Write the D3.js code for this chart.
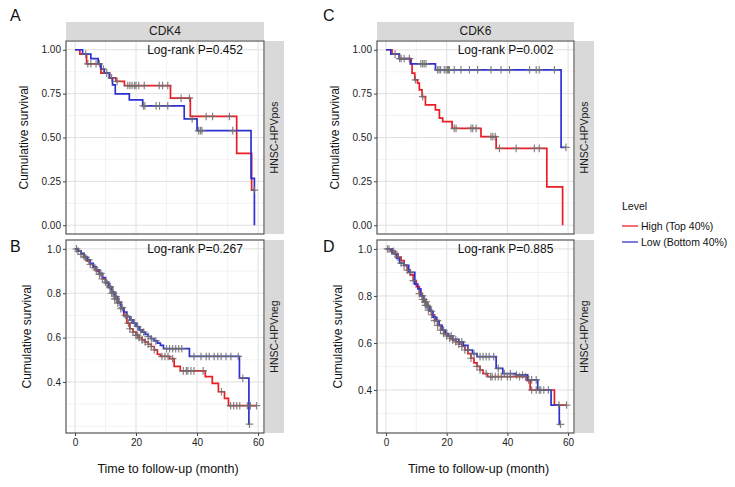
<!DOCTYPE html>
<html><head><meta charset="utf-8">
<script src="https://cdn.jsdelivr.net/npm/d3@7"></script>
<style>
html,body{margin:0;padding:0;background:#fff;}
text{font-family:"Liberation Sans",Arial,sans-serif;}
</style></head>
<body><svg id="chart" width="735" height="487"></svg>
<script>
// ---------------- data ----------------
const genes = ["CDK4", "CDK6"];
const strata = ["HNSC-HPVpos", "HNSC-HPVneg"];
const groups = ["High (Top 40%)", "Low (Bottom 40%)"];
const pValues = [["0.452", "0.267"], ["0.002", "0.885"]];
const xTicks = [0, 20, 40, 60];
const yTicksPos = [0, 0.25, 0.5, 0.75, 1.0];
const yTicksNeg = [0.4, 0.6, 0.8, 1.0];

// Panel A: CDK4, HPV positive  (time in months, survival after the event)
const cdk4PosHigh = [[0,1],[1.6,0.975],[3.8,0.92],[8.5,0.867],[11.3,0.84],[13.4,0.82],[16.2,0.796],[31.3,0.724],[37.8,0.62],[53,0.41],[57.9,0.2]];
const cdk4PosHighCens = [4.2,5.2,6.9,8.0,10.4,13.8,17.3,18.0,18.7,19.5,20.0,20.9,22.7,27.6,28.7,30.4,34.8,37.5,43,45.1,50.6,58.8];
const cdk4PosLow = [[0,1],[2.5,0.975],[5.2,0.95],[7.6,0.92],[8.5,0.89],[9.6,0.867],[11.3,0.84],[12.3,0.80],[13.2,0.749],[17.8,0.714],[22.2,0.68],[35.8,0.606],[40,0.539],[57.7,0.267],[58.8,0]];
const cdk4PosLowCens = [3.5,9.3,12.0,22.4,22.9,26.6,27.7,30.4,38.4,40.5,41.1,41.6,51.7];

// Panel B: CDK4, HPV negative
const cdk4NegHigh = [[0,1],[1,0.99],[2,0.975],[3,0.96],[4,0.945],[5,0.93],[6,0.915],[7,0.9],[8,0.885],[9,0.865],[10,0.845],[11,0.825],[12,0.8],[13,0.775],[14,0.755],[15,0.73],[16,0.7],[17,0.665],[18,0.64],[19,0.625],[20,0.61],[21,0.6],[22,0.59],[23,0.58],[24,0.57],[25,0.56],[26,0.545],[27,0.525],[28,0.515],[31,0.505],[32.5,0.47],[34.5,0.45],[42.7,0.424],[45,0.394],[47,0.356],[49,0.326],[50.3,0.293]];
const cdk4NegHighCens = [0.5,2,3.5,5,6.5,8,9,10.5,11.5,12,12.5,13,13.5,14,15,16.5,17.5,18,19,20,20.5,21,22,23,24,25,26,28.5,29.5,30.5,32,35.5,36.5,37,38,39,42,48,51,52,53,54,56.5,57.5,59.5];
const cdk4NegLow = [[0,1],[1,0.99],[2,0.98],[3,0.965],[4,0.95],[5,0.935],[6,0.92],[7,0.905],[8,0.89],[9,0.87],[10,0.85],[11,0.83],[12,0.805],[13,0.785],[14,0.76],[15,0.735],[16,0.715],[17,0.695],[18,0.68],[19,0.665],[20,0.65],[21,0.635],[22,0.625],[23,0.615],[24,0.605],[25,0.595],[26,0.585],[27,0.575],[28,0.565],[29,0.55],[37.5,0.515],[53.9,0.417],[57,0.21]];
const cdk4NegLowCens = [1,3,4.5,7,8.5,10,11.5,12.5,13.5,14.5,15.5,17,18.5,19.5,20.5,21.5,22.5,24,25,26.5,30,31,32,33,34,35,39,41.3,43,44,45.6,46.8,47.9,49.5,51.1,53.5,55,57.2];

// Panel C: CDK6, HPV positive
const cdk6PosHigh = [[0,1],[2.0,0.975],[4.4,0.95],[8.3,0.92],[8.6,0.867],[9.5,0.829],[10.4,0.81],[11.0,0.771],[11.9,0.733],[13.0,0.686],[16.3,0.657],[17.6,0.61],[18.7,0.59],[21.8,0.552],[31.3,0.505],[36.3,0.438],[53,0.219],[58.2,0]];
const cdk6PosHighCens = [5,9.7,12.1,22.5,23.1,28,28.6,29.7,34.6,35.2,36.0,37.4,42.9,48.9,50.5];
const cdk6PosLow = [[0,1],[1.6,0.975],[4.4,0.95],[8,0.92],[16.3,0.886],[57.7,0.444]];
const cdk6PosLowCens = [3,4.5,6.0,7.7,11.5,12.1,12.6,13.2,17,17.5,18,19.2,19.8,20.3,20.6,20.9,22.5,24.7,27.5,30.2,34.6,37.9,40.7,47.3,49.5,50.5,55.5,59.3];

// Panel D: CDK6, HPV negative
const cdk6NegHigh = [[0,1],[1.5,0.99],[3,0.98],[4,0.965],[5,0.95],[6,0.93],[7,0.91],[8,0.89],[9,0.865],[10,0.84],[11,0.81],[12,0.785],[13,0.76],[14,0.74],[15,0.72],[16,0.695],[17,0.675],[18,0.655],[19,0.64],[20,0.63],[21,0.62],[22,0.613],[23,0.605],[24,0.595],[25,0.585],[26,0.57],[27,0.555],[28,0.535],[29,0.515],[30,0.5],[31,0.485],[32,0.47],[33.5,0.457],[46.5,0.44],[47.5,0.4],[55.5,0.336]];
const cdk6NegHighCens = [1,2.5,4,6,7,9,11,12,12.5,13,13.5,14,15,16,17,18,19,20,21,22,23,24,25,26,28,30,31,33,34.5,35,36,37,38,40,41,44,46,48,49.5,50.5,52,53.5,57,59.5];
const cdk6NegLow = [[0,1],[2,0.98],[3.5,0.96],[4.5,0.94],[6,0.93],[7.5,0.9],[9.5,0.85],[10.5,0.83],[11.5,0.8],[12.5,0.775],[13.5,0.755],[14.5,0.735],[15.5,0.71],[16.5,0.695],[17.5,0.675],[18.5,0.655],[19.5,0.64],[20.5,0.63],[22,0.615],[24,0.605],[25.5,0.59],[27,0.57],[28.5,0.555],[30,0.542],[36.3,0.492],[38.5,0.47],[42.9,0.464],[46.7,0.443],[50,0.4],[54.4,0.336],[57.1,0.254]];
const cdk6NegLowCens = [0.5,3,5,8,12,12.8,13.3,14,15,17,19,20,21.5,23,25,27,29,31,32,33,34,35.5,37,39,41,43,45,47,48,49.5,51,57.5];

// ---------------- layout ----------------
const svg = d3.select("#chart");
const colors = {high: "#ec1c24", low: "#2e31d1"};
const cols = [{x0: 66, x1: 264}, {x0: 377, x1: 574}];
const rows = [{y0: 41, y1: 234}, {y0: 240, y1: 433}];

const panels = [
  {letter:"A", c:0, r:0, high:cdk4PosHigh, highC:cdk4PosHighCens, low:cdk4PosLow, lowC:cdk4PosLowCens, dom:[-0.05,1.05], ticks:yTicksPos, fmt:d3.format(".2f"), minor:[0.125,0.375,0.625,0.875], p:pValues[0][0]},
  {letter:"B", c:0, r:1, high:cdk4NegHigh, highC:cdk4NegHighCens, low:cdk4NegLow, lowC:cdk4NegLowCens, dom:[0.17,1.04], ticks:yTicksNeg, fmt:d3.format(".1f"), minor:[0.2,0.3,0.5,0.7,0.9], p:pValues[0][1]},
  {letter:"C", c:1, r:0, high:cdk6PosHigh, highC:cdk6PosHighCens, low:cdk6PosLow, lowC:cdk6PosLowCens, dom:[-0.05,1.05], ticks:yTicksPos, fmt:d3.format(".2f"), minor:[0.125,0.375,0.625,0.875], p:pValues[1][0]},
  {letter:"D", c:1, r:1, high:cdk6NegHigh, highC:cdk6NegHighCens, low:cdk6NegLow, lowC:cdk6NegLowCens, dom:[0.217,1.038], ticks:yTicksNeg, fmt:d3.format(".1f"), minor:[0.3,0.5,0.7,0.9], p:pValues[1][1]}
];

function stepValue(steps, t){
  let v = steps[0][1];
  for (const s of steps){ if (s[0] <= t) v = s[1]; }
  return v;
}

panels.forEach(P => {
  const col = cols[P.c], row = rows[P.r];
  const x = d3.scaleLinear().domain([-2.95, 61.95]).range([col.x0, col.x1]);
  const y = d3.scaleLinear().domain(P.dom).range([row.y1, row.y0]);
  const g = svg.append("g");
  const clipId = "clip" + P.letter;
  svg.append("clipPath").attr("id", clipId).append("rect")
    .attr("x", col.x0).attr("y", row.y0).attr("width", col.x1 - col.x0).attr("height", row.y1 - row.y0);

  // grid
  const grid = g.append("g");
  [10, 30, 50].forEach(v => grid.append("line").attr("x1", x(v)).attr("x2", x(v)).attr("y1", row.y0).attr("y2", row.y1).attr("stroke", "#f0f0f0").attr("stroke-width", 0.8));
  P.minor.forEach(v => grid.append("line").attr("x1", col.x0).attr("x2", col.x1).attr("y1", y(v)).attr("y2", y(v)).attr("stroke", "#f0f0f0").attr("stroke-width", 0.8));
  xTicks.forEach(v => grid.append("line").attr("x1", x(v)).attr("x2", x(v)).attr("y1", row.y0).attr("y2", row.y1).attr("stroke", "#e0e0e0").attr("stroke-width", 1));
  P.ticks.forEach(v => grid.append("line").attr("x1", col.x0).attr("x2", col.x1).attr("y1", y(v)).attr("y2", y(v)).attr("stroke", "#e0e0e0").attr("stroke-width", 1));

  // curves
  const line = d3.line().x(d => x(d[0])).y(d => y(d[1])).curve(d3.curveStepAfter);
  const curves = g.append("g").attr("clip-path", `url(#${clipId})`);
  [[P.high, P.highC, colors.high], [P.low, P.lowC, colors.low]].forEach(([steps, cens, color]) => {
    const end = Math.max(steps[steps.length - 1][0], d3.max(cens));
    const pts = steps.concat([[end, steps[steps.length - 1][1]]]);
    curves.append("path").attr("d", line(pts)).attr("fill", "none").attr("stroke", color).attr("stroke-width", 1.7);
  });
  [[P.high, P.highC], [P.low, P.lowC]].forEach(([steps, cens]) => {
    cens.forEach(t => {
      const cx = x(t), cy = y(stepValue(steps, t));
      curves.append("path").attr("d", `M${cx-3.8},${cy}H${cx+3.8}M${cx},${cy-3.8}V${cy+3.8}`)
        .attr("stroke", "#6e6e6e").attr("stroke-opacity", 0.85).attr("stroke-width", 1.2).attr("fill", "none");
    });
  });

  // border
  g.append("rect").attr("x", col.x0).attr("y", row.y0).attr("width", col.x1 - col.x0).attr("height", row.y1 - row.y0)
    .attr("fill", "none").attr("stroke", "#555").attr("stroke-width", 1.2);

  // y axis
  const ya = g.append("g").attr("transform", `translate(${col.x0},0)`)
    .call(d3.axisLeft(y).tickValues(P.ticks).tickFormat(P.fmt).tickSize(3).tickPadding(2));
  ya.select(".domain").remove();
  ya.selectAll(".tick line").attr("stroke", "#444");
  ya.selectAll(".tick text").attr("font-size", 10).attr("fill", "#222").attr("font-family", "Liberation Sans, Arial, sans-serif");

  // x axis (bottom row only)
  if (P.r === 1) {
    const xa = g.append("g").attr("transform", `translate(0,${row.y1})`)
      .call(d3.axisBottom(x).tickValues(xTicks).tickSize(3).tickPadding(3));
    xa.select(".domain").remove();
    xa.selectAll(".tick line").attr("stroke", "#444");
    xa.selectAll(".tick text").attr("font-size", 10).attr("fill", "#222").attr("font-family", "Liberation Sans, Arial, sans-serif");
    g.append("text").attr("x", (col.x0 + col.x1) / 2 + 3).attr("y", 473).attr("text-anchor", "middle")
      .attr("font-size", 12.5).attr("fill", "#111").text("Time to follow-up (month)");
  }

  // y title
  const yt = P.r === 0 ? col.x0 - 38 : col.x0 - 35;
  g.append("text").attr("transform", `translate(${yt},${(row.y0 + row.y1) / 2}) rotate(-90)`)
    .attr("text-anchor", "middle").attr("font-size", 12).attr("fill", "#111").text("Cumulative survival");

  // p-value
  g.append("text").attr("x", (col.x0 + col.x1) / 2 + 30).attr("y", row.y0 + 13).attr("text-anchor", "middle")
    .attr("font-size", 12).attr("fill", "#111").text("Log-rank P=" + P.p);

  // right strip
  g.append("rect").attr("x", col.x1 + 1).attr("y", row.y0).attr("width", 19).attr("height", row.y1 - row.y0).attr("fill", "#d9d9d9");
  g.append("text").attr("transform", `translate(${col.x1 + 14},${(row.y0 + row.y1) / 2}) rotate(-90)`)
    .attr("text-anchor", "middle").attr("font-size", 10.5).attr("fill", "#1a1a1a").text(strata[P.r]);

  // top strip
  if (P.r === 0) {
    g.append("rect").attr("x", col.x0).attr("y", 22).attr("width", col.x1 - col.x0).attr("height", 18).attr("fill", "#d9d9d9");
    g.append("text").attr("x", (col.x0 + col.x1) / 2).attr("y", 35).attr("text-anchor", "middle")
      .attr("font-size", 12).attr("fill", "#1a1a1a").text(genes[P.c]);
  }

  // panel letter
  svg.append("text").attr("x", P.c === 0 ? 10 : 323).attr("y", P.r === 0 ? 21 : 252)
    .attr("font-size", 16).attr("fill", "#111").text(P.letter);
});

// legend
const lg = svg.append("g");
lg.append("text").attr("x", 622).attr("y", 210).attr("font-size", 10.5).attr("fill", "#111").text("Level");
[[groups[0], colors.high], [groups[1], colors.low]].forEach(([lab, col], i) => {
  const yy = 226 + i * 16;
  lg.append("line").attr("x1", 622).attr("x2", 638).attr("y1", yy).attr("y2", yy).attr("stroke", col).attr("stroke-width", 1.6).attr("stroke-opacity", 0.8);
  lg.append("text").attr("x", 641).attr("y", yy + 3.5).attr("font-size", 10.5).attr("fill", "#111").text(lab);
});
</script>
</body></html>
